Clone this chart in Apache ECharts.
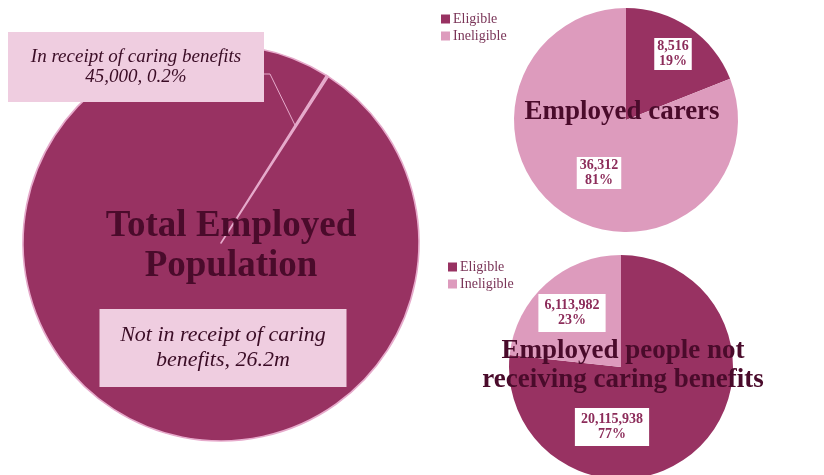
<!DOCTYPE html>
<html>
<head>
<meta charset="utf-8">
<script src="https://cdn.jsdelivr.net/npm/echarts@6/dist/echarts.min.js"></script>
<style>
  html, body { margin: 0; padding: 0; background: #ffffff; }
  #chart { width: 824px; height: 475px; }
</style>
</head>
<body>
<div id="chart"></div>
<script>
// Whole employed population, split by receipt of caring benefits
const totalNames = ['In receipt of caring benefits', 'Not in receipt of caring benefits'];
const totalValues = [45000, 26229920];

// Eligibility split used by the two smaller pies
const eligibilityNames = ['Eligible', 'Ineligible'];
const carerValues = [8516, 36312];          // employed carers
const nonCarerValues = [20115938, 6113982]; // employed people not receiving caring benefits

// Pie headings
const totalHeading = 'Total Employed\nPopulation';
const carerHeading = 'Employed carers';
const nonCarerHeading = 'Employed people not\nreceiving caring benefits';

const DARK = '#983262';
const LIGHT = '#dd9bbd';
const BOX = '#efcde0';
const EDGE = '#e6aacb';
const INK = '#4a0b2b';
const LABEL_INK = '#8c2c5a';
const SERIF = '"Liberation Serif", "DejaVu Serif", serif';

const fmt = n => n.toLocaleString('en-GB');
const sum = arr => arr.reduce((a, b) => a + b, 0);

// Geometry of the large pie
const big = { cx: 221, cy: 243, r: 198, start: 57.8 };

// Point inside the large pie on the thin "in receipt" slice, where its leader line starts
function thinSliceAnchor() {
  const share = totalValues[0] / sum(totalValues);
  const a = ((90 - big.start) + share * 180) * Math.PI / 180;
  return [big.cx + 0.7 * big.r * Math.sin(a), big.cy - 0.7 * big.r * Math.cos(a)];
}

const chart = echarts.init(document.getElementById('chart'), null, { renderer: 'canvas' });

function smallLabel(pad) {
  return {
    show: true,
    position: 'inside',
    formatter: p => fmt(p.value) + '\n' + Math.round(p.percent) + '%',
    backgroundColor: '#ffffff',
    padding: pad,
    color: LABEL_INK,
    fontFamily: SERIF,
    fontWeight: 'bold',
    fontSize: 14,
    lineHeight: 15,
    align: 'center'
  };
}

function legendAt(left, top) {
  return {
    data: eligibilityNames,
    orient: 'vertical',
    left, top,
    icon: 'rect', itemWidth: 9, itemHeight: 9, itemGap: 3,
    textStyle: { fontFamily: SERIF, fontSize: 14, color: '#7a3558', padding: [0, 0, 0, -2] },
    selectedMode: false
  };
}

const colours = [DARK, LIGHT];
const anchor = thinSliceAnchor();

const option = {
  animation: false,
  backgroundColor: '#ffffff',
  legend: [legendAt(436, 7), legendAt(443, 255)],
  series: [
    {
      type: 'pie',
      center: [big.cx, big.cy],
      radius: big.r,
      startAngle: big.start,
      clockwise: true,
      avoidLabelOverlap: false,
      silent: true,
      itemStyle: { borderColor: EDGE, borderWidth: 1.6 },
      data: totalNames.map((name, i) => ({
        name,
        value: totalValues[i],
        itemStyle: { color: i === 0 ? LIGHT : DARK },
        label: i === 0
          ? { width: 256, padding: [15, 0, 15, 0], fontSize: 19, lineHeight: 20 }
          : { width: 247, padding: [14, 0, 14, 0], fontSize: 22, lineHeight: 25 }
      })),
      label: {
        show: true,
        position: 'inside',
        formatter: p => {
          const total = sum(totalValues);
          if (p.dataIndex === 0) {
            return p.name + '\n' + fmt(p.value) + ', ' + (p.value / total * 100).toFixed(1) + '%';
          }
          return p.name.replace(/ (benefits)$/, '\n$1') + ', ' + (p.value / 1e6).toFixed(1) + 'm';
        },
        backgroundColor: BOX,
        color: '#3a0c25',
        fontFamily: SERIF,
        fontStyle: 'italic',
        align: 'center'
      },
      labelLine: { show: false },
      labelLayout: p => (p.dataIndex === 0
        ? { x: 136, y: 67, align: 'center', verticalAlign: 'middle' }
        : { x: 223, y: 348, align: 'center', verticalAlign: 'middle' })
    },
    {
      type: 'pie',
      center: [626, 120],
      radius: 112,
      startAngle: 90,
      silent: true,
      avoidLabelOverlap: false,
      data: eligibilityNames.map((name, i) => ({ name, value: carerValues[i], itemStyle: { color: colours[i] } })),
      label: smallLabel([1, 3, 1, 3]),
      labelLine: { show: false },
      labelLayout: p => (p.dataIndex === 0
        ? { x: 673, y: 54, align: 'center', verticalAlign: 'middle' }
        : { x: 599, y: 173, align: 'center', verticalAlign: 'middle' })
    },
    {
      type: 'pie',
      center: [621, 367],
      radius: 112,
      startAngle: 90,
      silent: true,
      avoidLabelOverlap: false,
      data: eligibilityNames.map((name, i) => ({ name, value: nonCarerValues[i], itemStyle: { color: colours[i] } })),
      label: smallLabel([4, 6, 4, 6]),
      labelLine: { show: false },
      labelLayout: p => (p.dataIndex === 0
        ? { x: 612, y: 427, align: 'center', verticalAlign: 'middle' }
        : { x: 572, y: 313, align: 'center', verticalAlign: 'middle' })
    }
  ],
  graphic: [
    {
      // leader line from the thin slice to its label box
      type: 'polyline', z: 5, silent: true,
      shape: { points: [anchor, [270, 74], [264, 74]] },
      style: { stroke: EDGE, lineWidth: 1, fill: null }
    },
    {
      type: 'text', x: 231, y: 246, z: 10,
      style: { text: totalHeading, align: 'center', verticalAlign: 'middle', fill: INK,
               font: 'bold 37px ' + SERIF, lineHeight: 40 }
    },
    {
      type: 'text', x: 622, y: 112, z: 10,
      style: { text: carerHeading, align: 'center', verticalAlign: 'middle', fill: INK,
               font: 'bold 27px ' + SERIF, lineHeight: 30 }
    },
    {
      type: 'text', x: 623, y: 366, z: 10,
      style: { text: nonCarerHeading, align: 'center', verticalAlign: 'middle', fill: INK,
               font: 'bold 27px ' + SERIF, lineHeight: 29 }
    }
  ]
};

chart.setOption(option);
</script>
</body>
</html>
